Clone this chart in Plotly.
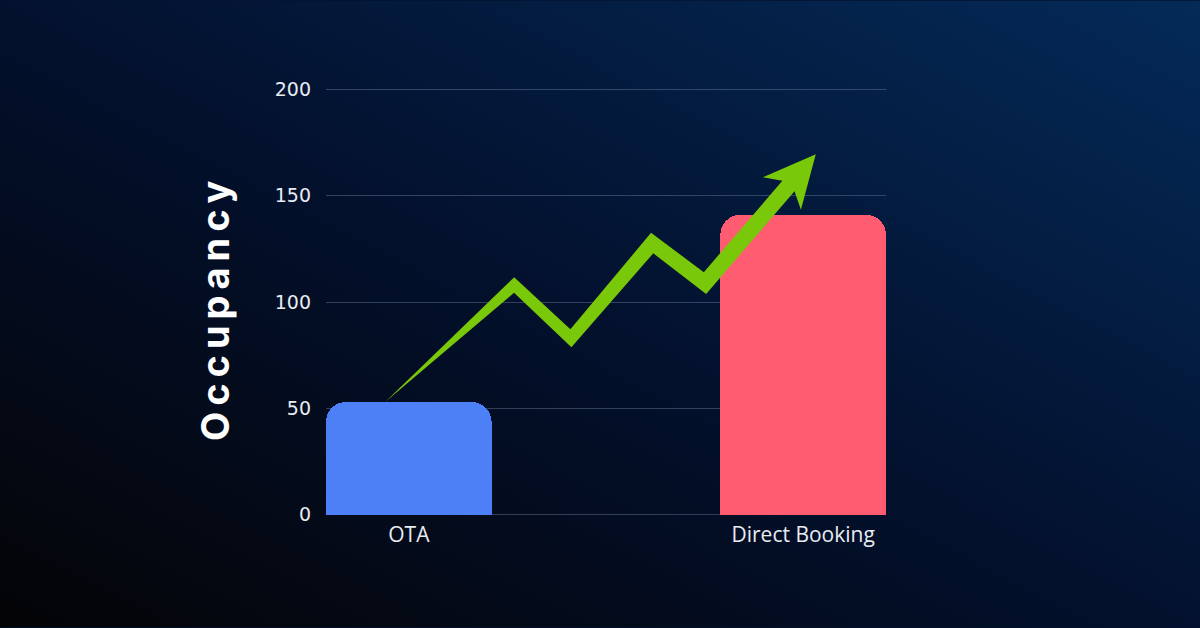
import base64
import numpy as np
import plotly.graph_objects as go

# ---------------- data ----------------
categories = ["OTA", "Direct Booking"]
cat_pos = [0, 1]
occupancy = [53, 141]
y_ticks = [0, 50, 100, 150, 200]

# decorative growth arrow (data coordinates: x in category units, y in occupancy)
trend_x = [-0.06, 0.267, 0.411, 0.617, 0.751, 1.032]
trend_y = [53, 108, 83, 127.7, 108.9, 169.5]

# ---------------- style ----------------
W, H = 1200, 628
SY = 2.13                     # px per occupancy unit
PAD = 0.6                     # small range padding so edge gridlines show
ML, MR = 326, 314
MT = 89 - PAD * SY
MB = (H - 515) - PAD * SY
X_RANGE = [-0.21, 1.21]
Y_RANGE = [0 - PAD, 200 + PAD]
BAR_COLORS = ["#4d7ff6", "#ff5b71"]
GREEN = "#79c80a"
TEXT = "#e8ecf3"
GRID = "rgba(125,145,175,0.38)"
SHAFT_W = [0, 11.5, 12.5, 15, 16, 16]   # shaft width (px) at each vertex
HEAD_LEN, HEAD_HALF, HEAD_NOTCH = 52, 25, 42

plot_w = W - ML - MR
plot_h = H - MT - MB
sx = plot_w / (X_RANGE[1] - X_RANGE[0])
sy = plot_h / (Y_RANGE[1] - Y_RANGE[0])


def arrow_polygon(xs, ys):
    P = np.column_stack([np.array(xs) * sx, np.array(ys) * sy])
    tip = P[-1]
    d_last = tip - P[-2]
    d_last /= np.linalg.norm(d_last)
    Q = np.vstack([P[:-1], tip - HEAD_NOTCH * d_last])
    n_seg = []
    for j in range(len(Q) - 1):
        d = Q[j + 1] - Q[j]
        d /= np.linalg.norm(d)
        n_seg.append(np.array([-d[1], d[0]]))
    left, right = [], []
    for i in range(len(Q)):
        if i == 0:
            off = n_seg[0]
        elif i == len(Q) - 1:
            off = n_seg[-1]
        else:
            m = n_seg[i - 1] + n_seg[i]
            m /= np.linalg.norm(m)
            off = m / np.dot(m, n_seg[i])
        left.append(Q[i] + off * SHAFT_W[i] / 2)
        right.append(Q[i] - off * SHAFT_W[i] / 2)
    nd = np.array([-d_last[1], d_last[0]])
    barb_l = tip - HEAD_LEN * d_last + HEAD_HALF * nd
    barb_r = tip - HEAD_LEN * d_last - HEAD_HALF * nd
    pts = left + [barb_l, tip, barb_r] + right[::-1] + [left[0]]
    pts = np.array(pts)
    return pts[:, 0] / sx, pts[:, 1] / sy


ax_, ay_ = arrow_polygon(trend_x, trend_y)

fig = go.Figure()
fig.add_trace(go.Bar(
    x=cat_pos, y=occupancy, width=0.42,
    marker=dict(color=BAR_COLORS, line=dict(width=0), cornerradius=20),
    hoverinfo="skip", showlegend=False,
))
fig.add_trace(go.Scatter(
    x=ax_, y=ay_, mode="lines", fill="toself", fillcolor=GREEN,
    line=dict(width=0, color=GREEN), hoverinfo="skip", showlegend=False,
))

# background gradient as SVG image covering the whole figure
svg = (
    "<svg xmlns='http://www.w3.org/2000/svg' width='1200' height='628' viewBox='0 0 1200 628' preserveAspectRatio='none'>"
    "<defs><linearGradient id='g' x1='0' y1='1' x2='1' y2='0'>"
    "<stop offset='0' stop-color='#040406'/>"
    "<stop offset='0.5' stop-color='#03112e'/>"
    "<stop offset='1' stop-color='#042a58'/>"
    "</linearGradient></defs>"
    "<rect width='1200' height='628' fill='url(#g)'/></svg>"
)
src = "data:image/svg+xml;base64," + base64.b64encode(svg.encode()).decode()

fig.update_layout(
    width=W, height=H,
    margin=dict(l=ML, r=MR, t=MT, b=MB, pad=0),
    paper_bgcolor="#03112e",
    plot_bgcolor="rgba(0,0,0,0)",
    bargap=0,
    hovermode=False,
    images=[dict(
        source=src, xref="paper", yref="paper",
        x=-ML / plot_w, y=1 + MT / plot_h,
        sizex=W / plot_w, sizey=H / plot_h,
        xanchor="left", yanchor="top", sizing="stretch", layer="below",
    )],
    xaxis=dict(
        range=X_RANGE, tickvals=cat_pos, ticktext=categories,
        showgrid=False, zeroline=False, showline=False, ticks="",
        tickfont=dict(family="Open Sans", size=21, color=TEXT),
        ticklabelstandoff=4, fixedrange=True,
    ),
    yaxis=dict(
        range=Y_RANGE, tickvals=y_ticks,
        showgrid=True, gridcolor=GRID, gridwidth=1,
        zeroline=False, showline=False, ticks="",
        tickfont=dict(family="DejaVu Sans", size=19, color=TEXT),
        ticklabelstandoff=14, fixedrange=True,
    ),
    annotations=[dict(
        text="\u2009".join("Occupancy"),
        xref="paper", yref="paper",
        x=(215 - ML) / plot_w, y=(515 - 311 + PAD * SY) / plot_h,
        xanchor="center", yanchor="middle", textangle=-90, showarrow=False,
        font=dict(family="Inter", size=38, color="#ffffff", weight="bold"),
    )],
)

fig.write_html(
    "out.html",
    config={"displayModeBar": False, "staticPlot": True},
    post_script="document.body.style.margin='0';document.body.style.padding='0';",
)
